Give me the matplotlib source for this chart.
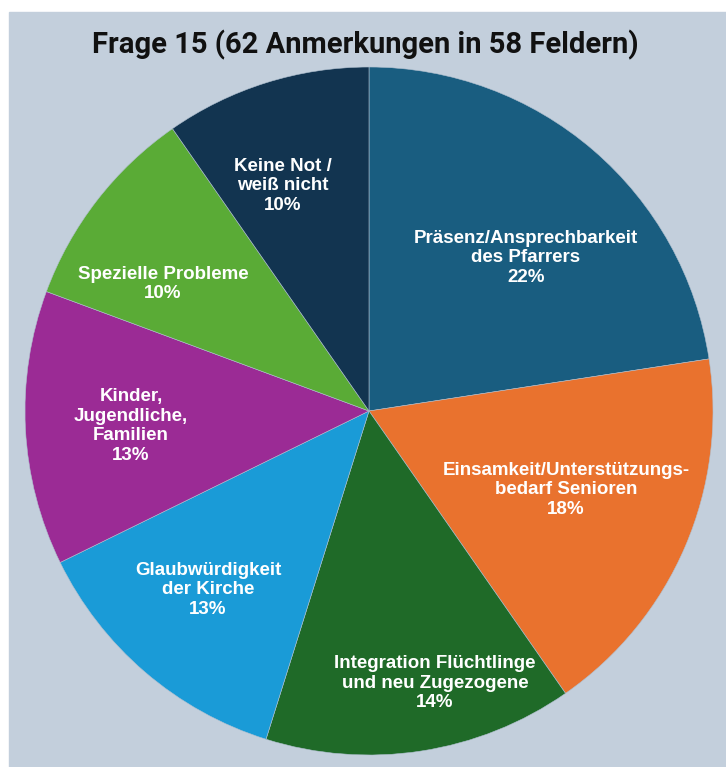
import matplotlib.pyplot as plt
from matplotlib.patches import Rectangle

# Daten: Anzahl der Anmerkungen je Kategorie (62 gesamt)
categories = ['Präsenz/Ansprechbarkeit\ndes Pfarrers',
              'Einsamkeit/Unterstützungs-\nbedarf Senioren',
              'Integration Flüchtlinge\nund neu Zugezogene',
              'Glaubwürdigkeit\nder Kirche',
              'Kinder,\nJugendliche,\nFamilien',
              'Spezielle Probleme',
              'Keine Not /\nweiß nicht']
counts = [14, 11, 9, 8, 8, 6, 6]
pct_labels = ['22%', '18%', '14%', '13%', '13%', '10%', '10%']
colors = ['#195d80', '#e9722e', '#1f6a28', '#1a9bd7', '#9b2b95', '#5aab36', '#123450']

# Textpositionen (Pixel, y nach unten)
label_pos = [(526, 258), (566, 490), (435, 683), (208, 590),
             (131, 426), (163, 284), (283, 186)]

W, H = 726, 767
fig = plt.figure(figsize=(W / 100, H / 100), dpi=100, facecolor='white')
ax = fig.add_axes([0, 0, 1, 1])

# Hintergrund
ax.add_patch(Rectangle((9, 0), W - 9, H - 12, color='#c3cfdc', zorder=0))

ax.pie(counts, colors=colors, startangle=90, counterclock=False,
       center=(369, H - 411), radius=344, frame=True,
       wedgeprops=dict(edgecolor='#b0c0d0', linewidth=0.4))
ax.set_xlim(0, W)
ax.set_ylim(0, H)
ax.axis('off')

for cat, pct, (x, y) in zip(categories, pct_labels, label_pos):
    ax.text(x, H - y, cat + '\n' + pct, ha='center', va='center',
            color='white', fontsize=13.5, fontweight='bold',
            family='Liberation Sans', linespacing=1.2)

ax.text(365, H - 45, 'Frage 15 (62 Anmerkungen in 58 Feldern)',
        ha='center', va='center', fontsize=21, fontweight='bold',
        family='Roboto', color='#111111')

plt.savefig('out.png', dpi=100, facecolor=fig.get_facecolor())
